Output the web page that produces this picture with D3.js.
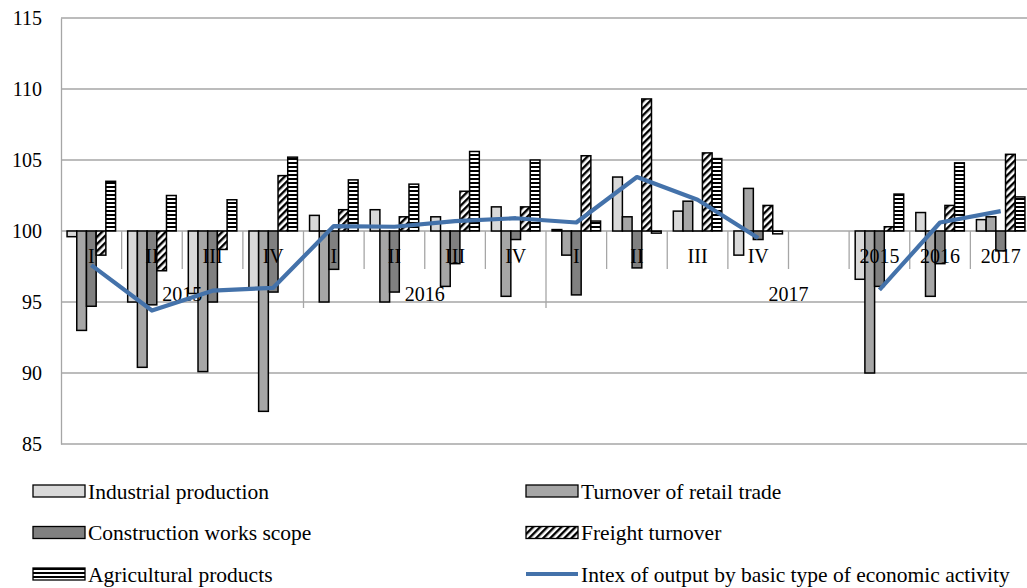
<!DOCTYPE html>
<html>
<head>
<meta charset="utf-8">
<style>
body { margin: 0; background: #fff; }
svg text { font-family: "Liberation Serif", serif; fill: #000; }
.grid line { stroke: #a6a6a6; stroke-width: 1.3; }
.bar { stroke: #000; stroke-width: 1.5; }
</style>
</head>
<body>
<div id="container"></div>
<script src="https://d3js.org/d3.v7.min.js"></script>
<script>

const width = 1027;
const height = 588;
const serif = '"Liberation Serif", serif';

// categories: quarters of 2015-2017, a blank slot, then the annual figures
const quarters = ["I", "II", "III", "IV", "I", "II", "III", "IV", "I", "II", "III", "IV", "", "2015", "2016", "2017"];
const years = ["2015", "2016", "2017"];
const yearSizes = [4, 4, 8];

const industrial   = [99.6, 95.0, 95.6, 95.9, 101.1, 101.5, 101.0, 101.7, 100.1, 103.8, 101.4, 98.3, null, 96.6, 101.3, 100.8];
const retail       = [93.0, 90.4, 90.1, 87.3, 95.0, 95.0, 96.1, 95.4, 98.3, 101.0, 102.1, 103.0, null, 90.0, 95.4, 101.0];
const construction = [94.7, 94.8, 95.0, 95.7, 97.3, 95.7, 97.7, 99.4, 95.5, 97.4, 100.0, 99.4, null, 96.1, 97.7, 98.6];
const freight      = [98.3, 97.2, 98.7, 103.9, 101.5, 101.0, 102.8, 101.7, 105.3, 109.3, 105.5, 101.8, null, 100.3, 101.8, 105.4];
const agricultural = [103.5, 102.5, 102.2, 105.2, 103.6, 103.3, 105.6, 105.0, 100.7, 99.85, 105.1, 99.8, null, 102.6, 104.8, 102.4];
const outputIndex  = [97.6, 94.4, 95.8, 96.0, 100.35, 100.3, 100.7, 100.9, 100.6, 103.8, 102.2, 99.5, null, 95.85, 100.6, 101.4];

const yTicks = [85, 90, 95, 100, 105, 110, 115];

const seriesNames = ["Industrial production", "Turnover of retail trade", "Construction works scope", "Freight turnover", "Agricultural products"];
const seriesValues = [industrial, retail, construction, freight, agricultural];
const lineName = "Intex of output by basic type of economic activity";

const fills = ["#d9d9d9", "#a6a6a6", "#808080", "url(#hatchDiag)", "url(#hatchHoriz)"];

const svg = d3.select('#container').append('svg')
    .attr('width', width).attr('height', height);

// patterns
const defs = svg.append('defs');
const pd = defs.append('pattern').attr('id', 'hatchDiag')
    .attr('patternUnits', 'userSpaceOnUse').attr('width', 5).attr('height', 5)
    .attr('patternTransform', 'rotate(45)');
pd.append('rect').attr('width', 5).attr('height', 5).attr('fill', '#fff');
pd.append('rect').attr('width', 2.4).attr('height', 5).attr('fill', '#000');
const ph = defs.append('pattern').attr('id', 'hatchHoriz')
    .attr('patternUnits', 'userSpaceOnUse').attr('width', 4).attr('height', 4);
ph.append('rect').attr('width', 4).attr('height', 4).attr('fill', '#fff');
ph.append('rect').attr('y', 2).attr('width', 4).attr('height', 2).attr('fill', '#000');

const slots = d3.range(quarters.length);
const x0 = d3.scaleBand().domain(slots).range([61, 1031]).padding(0);
const bw = x0.bandwidth();
const x1 = d3.scaleBand().domain(d3.range(seriesNames.length)).range([bw * 0.1, bw * 0.9]);
const y = d3.scaleLinear().domain([85, 115]).range([444, 18]);

// gridlines
svg.append('g').attr('class', 'grid')
    .selectAll('line').data(yTicks).enter().append('line')
    .attr('x1', 61).attr('x2', 1031)
    .attr('y1', d => y(d)).attr('y2', d => y(d));

// y axis
const yAxis = d3.axisLeft(y).tickValues(yTicks).tickSize(0).tickPadding(19);
const ya = svg.append('g').attr('transform', 'translate(61,0)').call(yAxis)
    .attr('font-family', serif).attr('font-size', 20);
ya.select('.domain').attr('stroke', '#a6a6a6').attr('stroke-width', 1.3);
ya.selectAll('text').style('font-size', '20px').style('font-family', serif).attr('fill', '#000');

// category ticks on the 100 line
const tickG = svg.append('g');
const groupStarts = [];
yearSizes.reduce((acc, n) => { groupStarts.push(acc); return acc + n; }, 0);
slots.slice(1).forEach(i => {
    const long = groupStarts.includes(i);
    tickG.append('line')
        .attr('x1', x0(i)).attr('x2', x0(i))
        .attr('y1', y(100)).attr('y2', long ? 308 : 269)
        .attr('stroke', '#a6a6a6').attr('stroke-width', 1.3);
});

// bars
seriesValues.forEach((vals, s) => {
    svg.append('g').selectAll('rect')
        .data(slots.filter(i => vals[i] != null))
        .enter().append('rect')
        .attr('class', 'bar')
        .attr('fill', fills[s])
        .attr('x', i => x0(i) + x1(s))
        .attr('width', x1.bandwidth())
        .attr('y', i => y(Math.max(vals[i], 100)))
        .attr('height', i => Math.max(Math.abs(y(vals[i]) - y(100)), 0.01));
});

// category labels
svg.append('g').selectAll('text').data(slots).enter().append('text')
    .attr('x', i => x0(i) + bw / 2)
    .attr('y', 263)
    .attr('text-anchor', 'middle')
    .style('font-family', serif)
    .style('font-size', '20px')
    .text(i => quarters[i]);

svg.append('g').selectAll('text').data(years).enter().append('text')
    .attr('x', (d, k) => (x0(groupStarts[k]) + x0(groupStarts[k] + yearSizes[k] - 1) + bw) / 2)
    .attr('y', 301)
    .attr('text-anchor', 'middle')
    .style('font-family', serif)
    .style('font-size', '20px')
    .text(d => d);

// line
const line = d3.line()
    .defined(i => outputIndex[i] != null)
    .x(i => x0(i) + bw / 2)
    .y(i => y(outputIndex[i]));
svg.append('path').datum(slots)
    .attr('d', line)
    .attr('fill', 'none')
    .attr('stroke', '#4472aa')
    .attr('stroke-width', 4.2)
    .attr('stroke-linejoin', 'round');

// legend
const legendItems = [
    {name: seriesNames[0], fill: fills[0], col: 0, row: 0},
    {name: seriesNames[1], fill: fills[1], col: 1, row: 0},
    {name: seriesNames[2], fill: fills[2], col: 0, row: 1},
    {name: seriesNames[3], fill: fills[3], col: 1, row: 1},
    {name: seriesNames[4], fill: fills[4], col: 0, row: 2},
    {name: lineName, line: true, col: 1, row: 2}
];
const lg = svg.append('g').selectAll('g').data(legendItems).enter().append('g')
    .attr('transform', d => `translate(${d.col ? 526 : 33},${491 + d.row * 41.5})`);
lg.each(function(d) {
    const g = d3.select(this);
    if (d.line) {
        g.append('line').attr('x1', 0).attr('x2', 52).attr('y1', 0).attr('y2', 0)
            .attr('stroke', '#4472aa').attr('stroke-width', 4.2);
    } else {
        g.append('rect').attr('x', 0).attr('y', -6).attr('width', 52).attr('height', 12)
            .attr('fill', d.fill).attr('stroke', '#000').attr('stroke-width', 1.3);
    }
    g.append('text').attr('x', 55).attr('y', 0).attr('dy', '0.35em')
        .style('font-family', serif)
        .style('font-size', '21.5px').text(d.name);
});

</script>
</body>
</html>
